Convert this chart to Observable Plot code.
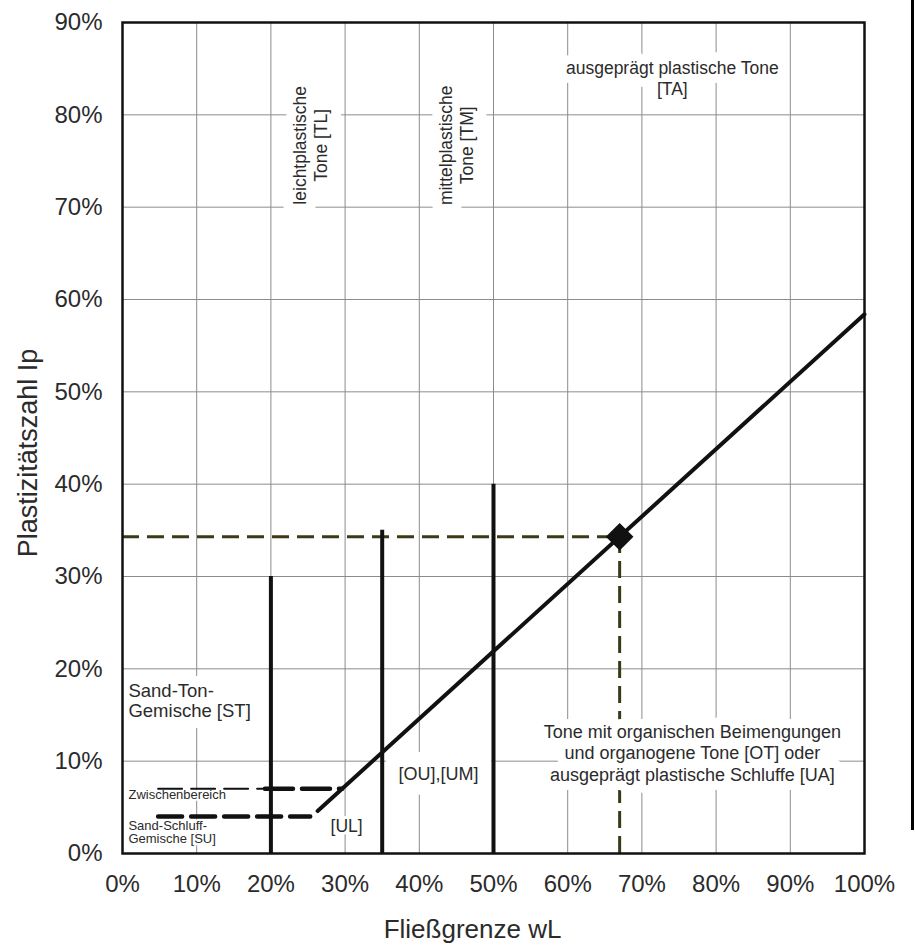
<!DOCTYPE html>
<html>
<head>
<meta charset="utf-8">
<script src="https://cdn.jsdelivr.net/npm/d3@7"></script>
<script src="https://cdn.jsdelivr.net/npm/@observablehq/plot@0.6"></script>
<style>
  html, body { margin: 0; padding: 0; background: #fff; }
  #wrap { position: relative; width: 915px; height: 947px; overflow: hidden; }
  #wrap svg { position: absolute; left: 0; top: 0; }
  #edge { position: absolute; left: 911px; top: 0; width: 3px; height: 830px; background: #000; z-index: 2; }
</style>
</head>
<body>
<div id="wrap"><div id="edge"></div></div>
<script>
// ---- data ----
const xTicks = [0, 0.1, 0.2, 0.3, 0.4, 0.5, 0.6, 0.7, 0.8, 0.9, 1.0];
const yTicks = [0, 0.1, 0.2, 0.3, 0.4, 0.5, 0.6, 0.7, 0.8, 0.9];

// vertical group boundaries (Fließgrenze) and their upper ends (Ip)
const boundaryWL  = [0.20, 0.35, 0.50];
const boundaryTop = [0.30, 0.35, 0.40];

// A-line end points
const aLineWL = [0.263, 1.00];
const aLineIp = [0.046, 0.584];

// lower limits (dashed)
const suLimitWL = [0.048, 0.253];   // Ip = 4 %
const suLimitIp = [0.04, 0.04];
const zwThinWL  = [0.048, 0.190];   // Ip = 7 %, thin part
const zwThickWL = [0.192, 0.296];   // Ip = 7 %, thick part
const zwIp      = [0.07, 0.07];

// sample point
const sampleWL = [0.67];
const sampleIp = [0.343];

// labels
const labelTexts = {
  TA: "ausgeprägt plastische Tone\n[TA]",
  TL: "leichtplastische\nTone [TL]",
  TM: "mittelplastische\nTone [TM]",
  ST: "Sand-Ton-\nGemische [ST]",
  OT: "Tone mit organischen Beimengungen\nund organogene Tone [OT] oder\nausgeprägt plastische Schluffe [UA]",
  OU: "[OU],[UM]",
  UL: "[UL]",
  ZW: "Zwischenbereich",
  SU: "Sand-Schluff-\nGemische [SU]"
};

// ---- build tables ----
const boundaries = boundaryWL.map((w, i) => ({wL: w, top: boundaryTop[i]}));
const aLine = aLineWL.map((w, i) => ({wL: w, ip: aLineIp[i]}));
const suLine = suLimitWL.map((w, i) => ({wL: w, ip: suLimitIp[i]}));
const zwThin = zwThinWL.map((w, i) => ({wL: w, ip: zwIp[i]}));
const zwThick = zwThickWL.map((w, i) => ({wL: w, ip: zwIp[i]}));
const sample = sampleWL.map((w, i) => ({wL: w, ip: sampleIp[i]}));

const FONT = "'Liberation Sans', Arial, Helvetica, sans-serif";
const TXT = "#2b2b2b";
const OLIVE = "#3a3a18";
const pct = d3.format(".0%");

// each label: a white halo layer, then the text itself
const halos = [];
const texts = [];
function label(key, wL, ip, opts = {}) {
  const {strokeWidth = 18, ...rest} = opts;
  const base = {
    x: "wL", y: "ip", text: "t",
    fontFamily: FONT, fontSize: 17.5, lineHeight: 1.2,
    ...rest
  };
  const d = [{wL, ip, t: labelTexts[key]}];
  halos.push(Plot.text(d, {...base, fill: "white", stroke: "white", strokeWidth}));
  texts.push(Plot.text(d, {...base, fill: TXT}));
}

label("TA", 0.741, 0.840);
label("TL", 0.252, 0.767, {rotate: -90, strokeWidth: 20});
label("TM", 0.449, 0.767, {rotate: -90, strokeWidth: 20});
label("ST", 0.008, 0.166, {textAnchor: "start", fontSize: 18.5, strokeWidth: 22, lineHeight: 1.1});
label("OT", 0.768, 0.1094, {fontSize: 18, strokeWidth: 18});
label("OU", 0.426, 0.0867, {fontSize: 18, strokeWidth: 30});
label("UL", 0.302, 0.0303, {fontSize: 17.5, strokeWidth: 6});
label("ZW", 0.008, 0.064, {textAnchor: "start", fontSize: 13, strokeWidth: 4});
label("SU", 0.008, 0.0233, {textAnchor: "start", fontSize: 13, strokeWidth: 4, lineHeight: 1.05});

const chart = Plot.plot({
  width: 915,
  height: 947,
  marginLeft: 122,
  marginRight: 51,
  marginTop: 22,
  marginBottom: 94,
  x: {domain: [0, 1]},
  y: {domain: [0, 0.9]},
  style: {fontFamily: FONT, background: "white", overflow: "visible"},
  marks: [
    Plot.gridX(xTicks, {stroke: "#8c8c8c", strokeOpacity: 1, strokeWidth: 1}),
    Plot.gridY(yTicks, {stroke: "#8c8c8c", strokeOpacity: 1, strokeWidth: 1}),

    // sample guide lines
    Plot.ruleY(sample, {y: "ip", x1: 0, x2: "wL", stroke: OLIVE, strokeWidth: 3, strokeDasharray: "17,8"}),
    Plot.ruleX(sample, {x: "wL", y1: 0, y2: "ip", stroke: OLIVE, strokeWidth: 3, strokeDasharray: "17,8"}),

    // label halos, then label text
    ...halos,
    ...texts,

    // lower dashed limits
    Plot.line(zwThin, {x: "wL", y: "ip", stroke: "#111", strokeWidth: 2, strokeDasharray: "24,9"}),
    Plot.line(zwThick, {x: "wL", y: "ip", stroke: "#111", strokeWidth: 4.5, strokeDasharray: "28,9"}),
    Plot.line(suLine, {x: "wL", y: "ip", stroke: "#111", strokeWidth: 4.5, strokeDasharray: "24,9"}),

    // group boundaries and A-line
    Plot.ruleX(boundaries, {x: "wL", y1: 0, y2: "top", stroke: "#111", strokeWidth: 4}),
    Plot.line(aLine, {x: "wL", y: "ip", stroke: "#111", strokeWidth: 4}),

    // sample point
    Plot.dot(sample, {x: "wL", y: "ip", symbol: "diamond2", r: 11.5, fill: "#111", stroke: "#111"}),

    Plot.frame({stroke: "#111", strokeWidth: 2.5}),

    // axes
    Plot.axisX(xTicks, {tickFormat: pct, tickSize: 0, tickPadding: 21, fontSize: 24, fill: TXT, label: null}),
    Plot.axisY(yTicks, {tickFormat: pct, tickSize: 0, tickPadding: 20, fontSize: 24, fill: TXT, label: null}),

    // axis titles
    Plot.text(["Fließgrenze wL"], {frameAnchor: "bottom", textAnchor: "middle", dx: -21, dy: 84, fontSize: 26, fill: TXT, fontFamily: FONT}),
    Plot.text(["Plastizitätszahl Ip"], {frameAnchor: "left", textAnchor: "middle", lineAnchor: "middle", dx: -94, dy: 15, rotate: -90, fontSize: 27, fill: TXT, fontFamily: FONT})
  ]
});

document.getElementById("wrap").insertBefore(chart, document.getElementById("edge"));
</script>
</body>
</html>
